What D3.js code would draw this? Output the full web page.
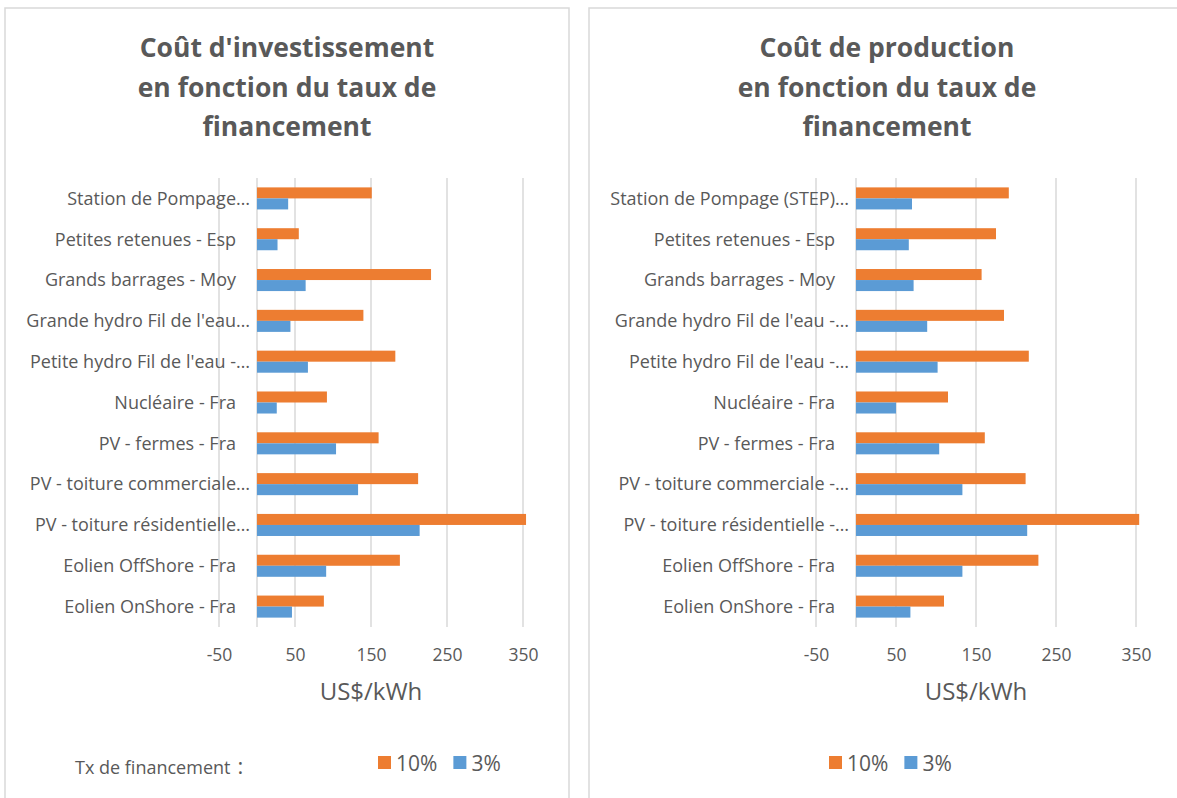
<!DOCTYPE html>
<html>
<head>
<meta charset="utf-8">
<script src="https://cdn.jsdelivr.net/npm/d3@7/dist/d3.min.js"></script>
<style>
  html, body { margin: 0; padding: 0; background: #fff; }
  svg { display: block; }
  text { font-family: "Open Sans", Lato, sans-serif; fill: #595959; }
</style>
</head>
<body>
<svg id="chart" width="1177" height="798"></svg>
<script>
// ---------- DATA ----------
const categories = [
  "Station de Pompage (STEP)", "Petites retenues - Esp", "Grands barrages - Moy",
  "Grande hydro Fil de l'eau", "Petite hydro Fil de l'eau", "Nucléaire - Fra",
  "PV - fermes - Fra", "PV - toiture commerciale", "PV - toiture résidentielle",
  "Eolien OffShore - Fra", "Eolien OnShore - Fra"
];
const labelsInvest = [
  "Station de Pompage…", "Petites retenues - Esp", "Grands barrages - Moy",
  "Grande hydro Fil de l'eau…", "Petite hydro Fil de l'eau -…", "Nucléaire - Fra",
  "PV - fermes - Fra", "PV - toiture commerciale…", "PV - toiture résidentielle…",
  "Eolien OffShore - Fra", "Eolien OnShore - Fra"
];
const labelsProd = [
  "Station de Pompage (STEP)…", "Petites retenues - Esp", "Grands barrages - Moy",
  "Grande hydro Fil de l'eau -…", "Petite hydro Fil de l'eau -…", "Nucléaire - Fra",
  "PV - fermes - Fra", "PV - toiture commerciale -…", "PV - toiture résidentielle -…",
  "Eolien OffShore - Fra", "Eolien OnShore - Fra"
];
const series = ["10%", "3%"];
const invest10 = [151, 55, 229, 140, 182, 92, 160, 212, 354, 188, 88];
const invest3  = [41, 27, 64, 44, 67, 26, 104, 133, 214, 91, 46];
const prod10   = [191, 175, 157, 185, 216, 115, 161, 212, 354, 228, 110];
const prod3    = [70, 66, 72, 89, 102, 50, 104, 133, 214, 133, 68];
const tickValues = [-50, 50, 150, 250, 350];
const titleInvest = ["Coût d'investissement", "en fonction du taux de", "financement"];
const titleProd = ["Coût de production", "en fonction du taux de", "financement"];
const axisTitle = "US$/kWh";
const legendLabel = "Tx de financement";

// ---------- STYLE ----------
const colors = { "10%": "#ED7D31", "3%": "#5B9BD5" };
const grid = "#d9d9d9";
const svg = d3.select("#chart");

function panel(opts) {
  const g = svg.append("g");
  // frame
  g.append("rect").attr("x", opts.frame[0]).attr("y", 8)
    .attr("width", opts.frame[1] - opts.frame[0]).attr("height", 820)
    .attr("fill", "#fff").attr("stroke", grid).attr("stroke-width", 1.5);

  // title
  const t = g.append("text").attr("text-anchor", "middle")
    .style("font-size", "26.5px").style("font-weight", "bold");
  opts.title.forEach((line, i) => {
    t.append("tspan").attr("x", opts.titleX).attr("y", 57 + i * 39.5).text(line);
  });

  const x = d3.scaleLinear().domain([-50, 350]).range(opts.xRange);
  const y = d3.scaleBand().domain(categories).range([178, 627])
    .paddingInner(0.46).paddingOuter(0.23);
  const ySub = d3.scaleBand().domain(series).range([0, y.bandwidth()]);

  // gridlines
  g.append("g").selectAll("line").data(tickValues.concat([0])).join("line")
    .attr("x1", d => x(d)).attr("x2", d => x(d))
    .attr("y1", 178).attr("y2", 627)
    .attr("stroke", grid).attr("stroke-width", 1.5);

  // bars
  const rows = categories.map((c, i) => ({ c, i, v: { "10%": opts.v10[i], "3%": opts.v3[i] } }));
  const rg = g.selectAll("g.row").data(rows).join("g")
    .attr("transform", d => `translate(0,${y(d.c)})`);
  rg.selectAll("rect").data(d => series.map(s => ({ s, v: d.v[s] }))).join("rect")
    .attr("x", d => x(Math.min(0, d.v)))
    .attr("width", d => Math.abs(x(d.v) - x(0)))
    .attr("y", d => ySub(d.s))
    .attr("height", ySub.bandwidth())
    .attr("fill", d => colors[d.s]);

  // category labels
  g.selectAll("text.cat").data(rows).join("text")
    .attr("class", "cat")
    .attr("text-anchor", "end")
    .attr("x", d => opts.labels[d.i].endsWith("…") ? opts.labelEnd + 14 : opts.labelEnd)
    .attr("y", d => y(d.c) + y.bandwidth() / 2)
    .attr("dy", "0.35em")
    .style("font-size", "18px")
    .text(d => opts.labels[d.i]);

  // x axis tick labels
  const ax = d3.axisBottom(x).tickValues(tickValues).tickSize(0).tickPadding(0)
    .tickFormat(d => String(d));
  const axg = g.append("g").attr("transform", "translate(0,648.5)").call(ax);
  axg.select(".domain").remove();
  axg.selectAll("text").style("font-size", "17.5px").style("fill", "#595959")
    .style("font-family", "'Open Sans', Lato, sans-serif");

  // axis title
  g.append("text").attr("text-anchor", "middle")
    .attr("x", x(150)).attr("y", 700)
    .style("font-size", "24px").text(axisTitle);

  // legend
  const lg = g.append("g");
  let lx = opts.legendX;
  series.forEach(s => {
    lg.append("rect").attr("x", lx).attr("y", 756).attr("width", 13).attr("height", 13)
      .attr("fill", colors[s]);
    const tt = lg.append("text").attr("x", lx + 18).attr("y", 771)
      .style("font-size", "21px").text(s);
    lx += 18 + tt.node().getComputedTextLength() + 16;
  });
  if (opts.legendLabel) {
    const lt = g.append("text").attr("x", 75).attr("y", 774).style("font-size", "18px");
    lt.append("tspan").text(opts.legendLabel);
    lt.append("tspan").attr("dx", 7).style("font-size", "22px").text(":");
  }
}

panel({
  frame: [5, 569], titleX: 287, title: titleInvest,
  xRange: [219, 523], labelEnd: 236, labels: labelsInvest,
  v10: invest10, v3: invest3, legendX: 378, legendLabel: legendLabel
});
panel({
  frame: [589, 1185], titleX: 887, title: titleProd,
  xRange: [816, 1136], labelEnd: 835, labels: labelsProd,
  v10: prod10, v3: prod3, legendX: 829
});
</script>
</body>
</html>
